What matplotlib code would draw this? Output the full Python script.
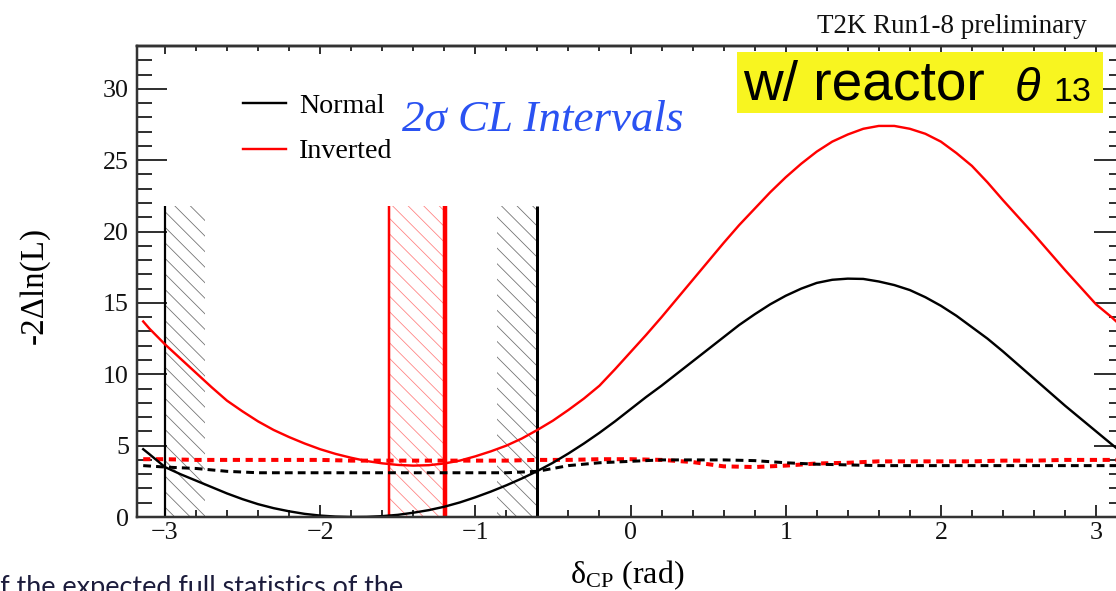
import matplotlib
matplotlib.use('Agg')
import matplotlib.pyplot as plt
from matplotlib.patches import Rectangle
from matplotlib.ticker import MultipleLocator

# ---------------- data ----------------
delta_cp = [-3.14, -3.1, -3.0, -2.9, -2.8, -2.7, -2.6, -2.5, -2.4, -2.3, -2.2,
            -2.1, -2.0, -1.9, -1.8, -1.7, -1.6, -1.5, -1.4, -1.3, -1.2, -1.1,
            -1.0, -0.9, -0.8, -0.7, -0.6, -0.5, -0.4, -0.3, -0.2, -0.1, 0.0,
            0.1, 0.2, 0.3, 0.4, 0.5, 0.6, 0.7, 0.8, 0.9, 1.0, 1.1, 1.2, 1.3,
            1.4, 1.5, 1.6, 1.7, 1.8, 1.9, 2.0, 2.1, 2.2, 2.3, 2.4, 2.5, 2.6,
            2.7, 2.8, 2.9, 3.0, 3.1, 3.14]
chi2_normal = [4.75, 4.4, 3.5, 3.0, 2.55, 2.1, 1.65, 1.25, 0.9, 0.62, 0.4,
               0.22, 0.1, 0.03, 0.0, 0.01, 0.06, 0.15, 0.3, 0.48, 0.72, 1.02,
               1.38, 1.78, 2.22, 2.7, 3.22, 3.8, 4.45, 5.15, 5.9, 6.7, 7.55,
               8.4, 9.2, 10.05, 10.9, 11.75, 12.6, 13.45, 14.2, 14.9, 15.5, 16.0,
               16.4, 16.62, 16.7, 16.68, 16.5, 16.25, 15.9, 15.4, 14.8, 14.1,
               13.3, 12.5, 11.6, 10.65, 9.7, 8.75, 7.8, 6.9, 6.0, 5.1, 4.75]
chi2_inverted = [13.7, 13.2, 12.1, 11.1, 10.1, 9.1, 8.15, 7.4, 6.7, 6.1, 5.6,
                 5.15, 4.75, 4.42, 4.15, 3.92, 3.76, 3.65, 3.6, 3.63, 3.75, 3.95,
                 4.25, 4.6, 5.0, 5.5, 6.1, 6.75, 7.5, 8.3, 9.2, 10.35, 11.55,
                 12.75, 14.0, 15.3, 16.6, 17.9, 19.2, 20.45, 21.6, 22.75, 23.8,
                 24.75, 25.6, 26.3, 26.8, 27.2, 27.4, 27.4, 27.2, 26.85, 26.3,
                 25.5, 24.6, 23.45, 22.2, 21.0, 19.8, 18.55, 17.3, 16.1, 14.9,
                 14.0, 13.6]
delta_cp_crit = [-3.14, -3.0, -2.8, -2.6, -2.4, -2.2, -2.0, -1.8, -1.6, -1.4,
                 -1.2, -1.0, -0.8, -0.6, -0.4, -0.2, 0.0, 0.2, 0.4, 0.6, 0.8,
                 1.0, 1.2, 1.4, 1.6, 1.8, 2.0, 2.2, 2.4, 2.6, 2.8, 3.0, 3.14]
crit_normal = [3.6, 3.5, 3.4, 3.2, 3.1, 3.1, 3.1, 3.1, 3.1, 3.1, 3.1,
               3.1, 3.1, 3.2, 3.6, 3.8, 3.9, 4.0, 4.0, 4.0, 3.95, 3.8, 3.7,
               3.65, 3.6, 3.6, 3.6, 3.6, 3.6, 3.6, 3.6, 3.6, 3.6]
crit_inverted = [4.05, 4.05, 4.0, 4.0, 4.0, 4.0, 4.0, 3.95, 3.95, 3.95, 3.95,
                 3.95, 3.95, 4.0, 4.0, 4.05, 4.05, 4.0, 3.85, 3.55, 3.5, 3.6, 3.75,
                 3.8, 3.9, 3.9, 3.9, 3.9, 3.95, 3.95, 4.0, 4.0, 4.0]
normal_bounds = [-3.0, -0.605]
normal_hatch_edges = [-2.74, -0.86]
inverted_bounds = [-1.555, -1.197]
band_top = 21.8
legend_labels = ['Normal', 'Inverted']
xlim = (-3.18, 3.18)
ylim = (0, 33)

# ---------------- styling ----------------
DPI = 140
W, H = 1116, 591
PX = 72.0 / DPI  # points per pixel

plt.rcParams['font.family'] = ['Liberation Serif', 'DejaVu Serif']
plt.rcParams['mathtext.fontset'] = 'custom'
plt.rcParams['mathtext.rm'] = 'Liberation Serif'
plt.rcParams['mathtext.it'] = 'Liberation Serif:italic'
plt.rcParams['hatch.linewidth'] = 0.8 * PX


def fx(x):
    return x / W


def fy(y):
    return 1 - y / H


fig = plt.figure(figsize=(W / DPI, H / DPI), dpi=DPI)
ax = fig.add_axes([fx(137), fy(517), (1124 - 137) / W, (517 - 46) / H])

# hatched interval edges
HATCH = '\\\\\\'
ax.fill_between([normal_bounds[0], normal_hatch_edges[0]], 0, band_top,
                facecolor='none', edgecolor='#707070', hatch=HATCH, linewidth=0)
ax.fill_between([normal_hatch_edges[1], normal_bounds[1]], 0, band_top,
                facecolor='none', edgecolor='#707070', hatch=HATCH, linewidth=0)
ax.fill_between(inverted_bounds, 0, band_top,
                facecolor='none', edgecolor='#ff8080', hatch=HATCH, linewidth=0)

ax.vlines(normal_bounds[0], 0, band_top, color='black', lw=2.2 * PX)
ax.vlines(normal_bounds[1], 0, band_top, color='black', lw=3.0 * PX)
ax.vlines(inverted_bounds[0], 0, band_top, color='#ff0000', lw=2.5 * PX)
ax.vlines(inverted_bounds[1], 0, band_top, color='#ff0000', lw=4.5 * PX)

# critical values (dashed)
ax.plot(delta_cp_crit, crit_inverted, color='#ff0000', lw=4 * PX, ls=(0, (1.8, 1.4)))
ax.plot(delta_cp_crit, crit_normal, color='black', lw=3 * PX, ls=(0, (2.6, 1.7)))

# likelihood curves
l_norm, = ax.plot(delta_cp, chi2_normal, color='black', lw=2.4 * PX)
l_inv, = ax.plot(delta_cp, chi2_inverted, color='#ff0000', lw=2.4 * PX)

ax.set_xlim(*xlim)
ax.set_ylim(*ylim)
ax.xaxis.set_major_locator(MultipleLocator(1))
ax.xaxis.set_minor_locator(MultipleLocator(0.2))
ax.yaxis.set_major_locator(MultipleLocator(5))
ax.yaxis.set_minor_locator(MultipleLocator(1))
ax.tick_params(which='both', direction='in', top=False, right=True,
               width=2 * PX, color='#333333', labelcolor='#111111',
               labelsize=26 * PX)
ax.tick_params(axis='x', which='major', length=12 * PX, pad=5 * PX)
ax.tick_params(axis='x', which='minor', length=7 * PX)
ax.tick_params(axis='y', which='major', length=30 * PX, pad=8 * PX)
ax.tick_params(axis='y', which='minor', length=15 * PX)
for s in ax.spines.values():
    s.set_linewidth(2.5 * PX)
    s.set_color('#333333')

# shorter ticks on the top edge
top = ax.secondary_xaxis('top')
top.xaxis.set_major_locator(MultipleLocator(1))
top.xaxis.set_minor_locator(MultipleLocator(0.2))
top.tick_params(which='both', direction='in', width=2 * PX, color='#333333',
                labeltop=False)
top.tick_params(which='major', length=8 * PX)
top.tick_params(which='minor', length=5 * PX)
top.spines['top'].set_linewidth(2.5 * PX)
top.spines['top'].set_color('#333333')

ax.set_xlabel('δ$_{\\rm CP}$ (rad)', fontsize=32 * PX)
ax.xaxis.set_label_coords((627 - 137) / 987, (517 - 558) / 471)
ax.set_ylabel('-2Δln(L)', fontsize=33 * PX)
ax.yaxis.set_label_coords((50 - 137) / 987, (517 - 285) / 471)

ax.legend([l_norm, l_inv], legend_labels, loc='upper left',
          bbox_to_anchor=(fx(243), fy(93)), bbox_transform=fig.transFigure,
          frameon=False, fontsize=28 * PX, handlelength=43 / 28,
          handletextpad=13 / 28, labelspacing=0.72, borderpad=0,
          borderaxespad=0)

# annotations
fig.text(fx(1087), fy(33), 'T2K Run1-8 preliminary', ha='right',
         va='baseline', fontsize=27 * PX, color='#111111')

fig.patches.append(Rectangle((fx(737), fy(113)), (1103 - 737) / W, (113 - 52) / H,
                             transform=fig.transFigure, facecolor='#f8f520',
                             edgecolor='none', zorder=1))
fig.text(fx(743), fy(100), 'w/ reactor', family='Liberation Sans',
         fontsize=55 * PX, va='baseline', zorder=3)
fig.text(fx(1015), fy(101), 'θ', family='Liberation Sans', style='italic',
         fontsize=47 * PX, va='baseline', zorder=3)
fig.text(fx(1053), fy(101), '13', family='Liberation Sans',
         fontsize=34 * PX, va='baseline', zorder=3)

fig.text(fx(402), fy(131), '2σ CL Intervals', family='Liberation Serif',
         style='italic', color='#2a52f2', fontsize=45 * PX, va='baseline')

fig.text(fx(-15), fy(595), 'of the expected full statistics of the',
         family='Lato', fontsize=27 * PX, color='#1c1c3c', va='baseline')

fig.savefig('out.png', dpi=DPI)
